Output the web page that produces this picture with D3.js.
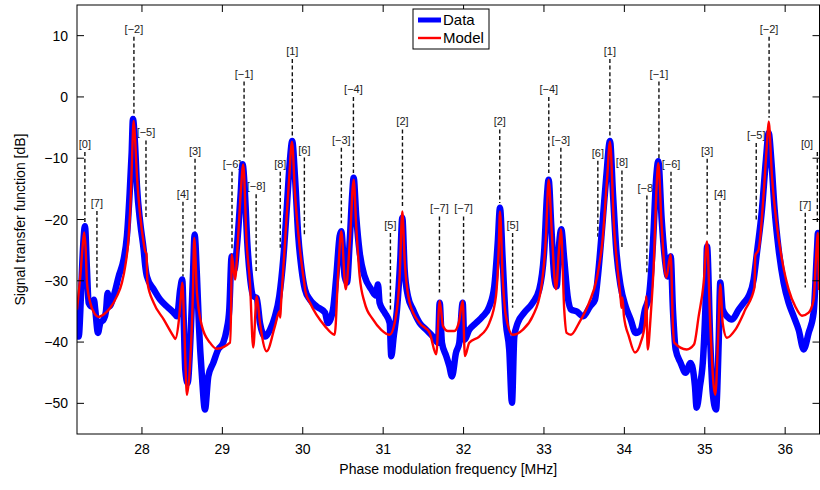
<!DOCTYPE html>
<html>
<head>
<meta charset="utf-8">
<script src="https://cdn.jsdelivr.net/npm/d3@7"></script>
<style>
  body { margin: 0; background: #fff; }
  text { font-family: "Liberation Sans", Arial, sans-serif; }
</style>
</head>
<body>
<div id="content"></div>
<script>
// measured transfer function (thick blue band)
var dataFreq = [27.192,27.213,27.241,27.266,27.291,27.316,27.337,27.378,27.403,27.419,27.453,27.481,27.524,27.552,27.573,27.593,27.648,27.710,27.772,27.813,27.847,27.872,27.888,27.913,27.938,27.979,28.021,28.041,28.062,28.146,28.228,28.311,28.394,28.435,28.476,28.501,28.519,28.539,28.568,28.601,28.634,28.655,28.684,28.709,28.746,28.784,28.825,28.887,28.949,29.011,29.053,29.086,29.116,29.148,29.185,29.228,29.252,29.281,29.310,29.343,29.384,29.427,29.468,29.530,29.592,29.654,29.708,29.757,29.800,29.841,29.869,29.903,29.944,29.986,30.027,30.090,30.173,30.276,30.313,30.376,30.417,30.459,30.479,30.521,30.550,30.583,30.616,30.633,30.665,30.708,30.770,30.852,30.910,30.935,30.956,31.019,31.081,31.101,31.131,31.172,31.213,31.238,31.267,31.308,31.371,31.454,31.536,31.619,31.682,31.703,31.731,31.785,31.822,31.856,31.905,31.947,31.989,32.009,32.071,32.154,32.238,32.320,32.382,32.425,32.453,32.486,32.527,32.568,32.602,32.631,32.673,32.755,32.859,32.942,33.004,33.037,33.058,33.091,33.128,33.158,33.190,33.215,33.252,33.294,33.336,33.406,33.489,33.572,33.634,33.675,33.725,33.775,33.821,33.858,33.899,33.954,34.016,34.078,34.140,34.203,34.256,34.306,34.356,34.397,34.422,34.464,34.514,34.539,34.576,34.604,34.638,34.700,34.762,34.824,34.878,34.899,34.940,34.981,35.015,35.028,35.069,35.099,35.140,35.173,35.193,35.223,35.276,35.338,35.422,35.484,35.546,35.608,35.649,35.711,35.761,35.795,35.827,35.869,35.919,35.981,36.043,36.106,36.168,36.230,36.292,36.354,36.396,36.408,36.427];
var dataDb = [-36.9,-39.1,-32.5,-24.9,-21.1,-28.2,-33.6,-34.2,-33.1,-34.7,-38.5,-36.9,-36.3,-35.0,-32.0,-34.2,-32.5,-29.3,-26.5,-22.7,-15.7,-9.1,-3.6,-7.5,-14.6,-20.6,-24.9,-27.6,-29.3,-31.4,-33.1,-34.2,-35.2,-35.8,-31.4,-29.8,-36.3,-44.5,-46.7,-40.1,-29.3,-22.5,-29.3,-37.4,-45.6,-51.0,-45.6,-43.4,-41.2,-40.1,-38.0,-34.7,-26.0,-28.2,-23.8,-15.7,-11.0,-15.7,-23.8,-29.3,-32.5,-32.8,-36.9,-39.1,-38.0,-35.8,-32.5,-26.5,-18.4,-10.2,-7.2,-13.0,-22.7,-28.2,-31.4,-33.1,-34.2,-35.2,-36.9,-34.7,-29.3,-22.7,-21.9,-29.3,-30.3,-23.8,-15.7,-13.2,-19.5,-25.4,-29.3,-31.4,-32.4,-30.6,-33.6,-35.2,-36.9,-42.3,-39.1,-34.7,-26.5,-19.7,-28.2,-32.5,-34.7,-36.9,-38.0,-39.1,-40.1,-33.6,-40.1,-42.3,-43.9,-45.6,-41.8,-40.1,-33.6,-39.6,-38.0,-36.9,-35.8,-34.2,-30.9,-23.8,-18.1,-26.5,-36.9,-41.2,-49.9,-39.1,-36.9,-35.2,-33.6,-31.4,-24.9,-16.2,-13.5,-21.1,-29.3,-30.9,-23.8,-21.6,-26.5,-32.5,-34.7,-35.0,-35.8,-34.2,-33.1,-28.7,-21.1,-13.0,-7.2,-15.7,-24.9,-30.9,-34.2,-36.3,-38.5,-38.0,-34.7,-32.5,-23.8,-13.0,-10.5,-20.0,-27.6,-29.3,-26.0,-34.7,-41.2,-43.4,-45.0,-43.4,-47.2,-50.7,-47.2,-42.3,-31.4,-24.4,-40.1,-48.3,-51.0,-40.1,-30.3,-34.7,-35.8,-36.3,-34.7,-33.6,-32.5,-29.8,-25.4,-18.4,-10.2,-5.9,-10.2,-18.4,-24.9,-30.3,-33.6,-35.8,-38.0,-41.2,-38.5,-35.2,-24.9,-22.2,-26.5];

// fitted model (red)
var modelFreq = [27.192,27.233,27.266,27.282,27.300,27.316,27.357,27.419,27.461,27.524,27.606,27.689,27.751,27.792,27.835,27.863,27.879,27.897,27.917,27.938,27.979,28.021,28.041,28.056,28.068,28.146,28.270,28.394,28.414,28.456,28.485,28.501,28.519,28.539,28.560,28.601,28.634,28.650,28.684,28.746,28.846,28.929,29.095,29.110,29.116,29.157,29.194,29.231,29.260,29.302,29.343,29.384,29.427,29.468,29.551,29.654,29.710,29.720,29.729,29.779,29.832,29.866,29.903,29.965,30.021,30.034,30.090,30.276,30.397,30.438,30.479,30.534,30.587,30.633,30.665,30.708,30.770,30.873,30.976,31.081,31.143,31.205,31.238,31.267,31.330,31.454,31.578,31.660,31.703,31.744,31.806,31.884,31.943,31.989,32.017,32.071,32.195,32.320,32.403,32.437,32.453,32.486,32.527,32.611,32.735,32.859,32.963,33.025,33.058,33.100,33.149,33.187,33.211,33.252,33.282,33.336,33.435,33.560,33.659,33.677,33.725,33.787,33.821,33.871,33.912,33.955,33.965,33.976,33.995,34.057,34.132,34.203,34.256,34.272,34.290,34.327,34.368,34.397,34.422,34.464,34.521,34.576,34.604,34.621,34.775,34.866,34.924,34.987,35.028,35.069,35.111,35.131,35.164,35.193,35.223,35.276,35.379,35.504,35.618,35.628,35.670,35.733,35.774,35.795,35.836,35.898,35.960,36.043,36.126,36.209,36.292,36.354,36.383,36.408,36.420];
var modelDb = [-34.7,-29.3,-23.8,-22.1,-24.9,-30.3,-33.6,-35.5,-35.9,-35.5,-34.4,-32.5,-30.3,-27.6,-22.7,-15.6,-9.1,-3.9,-7.5,-13.0,-19.5,-23.8,-25.2,-25.6,-30.3,-33.6,-36.3,-39.1,-39.5,-36.8,-32.5,-30.3,-34.7,-42.9,-48.6,-42.9,-31.9,-23.0,-31.9,-37.4,-40.1,-41.1,-40.1,-33.1,-25.7,-29.8,-23.3,-15.1,-11.0,-23.8,-30.3,-40.9,-32.5,-36.9,-41.5,-37.4,-35.0,-36.0,-33.9,-23.8,-13.0,-7.3,-15.7,-24.9,-30.6,-31.8,-33.6,-37.4,-38.8,-29.3,-21.9,-31.4,-23.3,-13.5,-21.1,-29.3,-33.6,-36.3,-38.0,-38.8,-36.9,-29.3,-18.7,-26.5,-33.6,-36.9,-38.5,-42.0,-33.3,-37.4,-38.2,-38.2,-36.7,-33.3,-42.3,-40.1,-39.1,-36.9,-32.5,-24.9,-18.7,-29.3,-35.8,-38.8,-38.0,-35.8,-31.4,-22.7,-13.5,-22.7,-31.4,-24.9,-21.6,-34.7,-38.5,-38.8,-36.9,-33.6,-29.5,-28.2,-23.8,-13.0,-7.3,-21.1,-27.6,-33.1,-34.4,-32.7,-35.8,-39.1,-41.7,-40.1,-36.9,-32.5,-41.2,-35.8,-26.5,-15.7,-10.8,-21.1,-29.5,-25.7,-37.4,-40.1,-41.2,-40.4,-35.8,-30.3,-23.6,-37.4,-47.2,-48.6,-40.1,-30.6,-36.9,-39.3,-38.0,-34.7,-31.1,-25.9,-24.9,-15.7,-7.5,-4.0,-13.0,-21.1,-26.5,-31.4,-34.2,-35.7,-35.2,-33.1,-26.5,-22.2,-31.5];

// resonance order annotations
var annLabels = ["[0]","[7]","[\u22122]","[\u22125]","[4]","[3]","[\u22126]","[\u22121]","[\u22128]","[8]","[1]","[6]","[\u22123]","[\u22124]","[5]","[2]","[\u22127]","[\u22127]","[2]","[5]","[\u22124]","[\u22123]","[6]","[1]","[8]","[\u22128]","[\u22121]","[\u22126]","[3]","[4]","[\u22125]","[\u22122]","[7]","[0]"];
var annFreq = [27.29,27.44,27.90,28.05,28.51,28.66,29.12,29.27,29.42,29.72,29.87,30.02,30.48,30.63,31.09,31.24,31.70,32.00,32.45,32.61,33.06,33.21,33.67,33.82,33.97,34.28,34.43,34.58,35.03,35.19,35.64,35.80,36.25,36.40];
var annTop = [-9.0,-18.6,9.8,-7.1,-17.1,-10.1,-12.2,2.5,-15.9,-12.2,6.2,-9.9,-8.3,0.0,-22.2,-5.3,-19.5,-19.5,-5.3,-22.2,0.0,-8.3,-10.4,6.2,-12.0,-16.1,2.5,-12.2,-10.1,-17.1,-7.5,9.8,-18.9,-9.0];
var annBottom = [-20.4,-31.1,-3.4,-19.7,-29.3,-22.5,-25.0,-9.9,-28.5,-24.6,-6.3,-22.5,-20.6,-12.4,-34.7,-17.9,-31.9,-31.9,-17.3,-34.4,-12.4,-20.6,-22.8,-6.3,-24.5,-28.7,-10.2,-25.0,-22.5,-29.8,-20.0,-3.4,-31.1,-20.6];

var xTicks = [28,29,30,31,32,33,34,35,36];
var yTicks = [-50,-40,-30,-20,-10,0,10];

// SVG setup
var W = 820, H = 490;
var plot = {left: 77, right: 819.5, top: 5, bottom: 434};

var svg = d3.select("#content")
  .append("svg")
  .attr("width", W)
  .attr("height", H);

var x = d3.scaleLinear().domain([27.192, 36.427]).range([plot.left, plot.right]);
var y = d3.scaleLinear().domain([-55, 15]).range([plot.bottom, plot.top]);

svg.append("clipPath").attr("id", "clip")
  .append("rect")
  .attr("x", plot.left).attr("y", plot.top)
  .attr("width", plot.right - plot.left).attr("height", plot.bottom - plot.top);

// dashed annotation lines + labels
var ann = annLabels.map(function(l, i) {
  return {label: l, f: annFreq[i], top: annTop[i], bottom: annBottom[i]};
});

svg.append("g")
  .selectAll("line")
  .data(ann)
  .join("line")
    .attr("x1", d => x(d.f)).attr("x2", d => x(d.f))
    .attr("y1", d => y(d.top)).attr("y2", d => y(d.bottom))
    .attr("stroke", "#111")
    .attr("stroke-width", 1.4)
    .attr("stroke-dasharray", "4,2.6");

// labels; the last one sits on the right border, keep it inside the picture
svg.append("g")
  .selectAll("text")
  .data(ann)
  .join("text")
    .attr("x", d => Math.min(x(d.f), W - 13))
    .attr("y", d => y(d.top) - 4)
    .attr("text-anchor", "middle")
    .style("font-size", "11px")
    .style("fill", "#222")
    .text(d => d.label);

// curves
var lineGen = d3.line()
  .curve(d3.curveMonotoneX)
  .x(d => x(d[0]))
  .y(d => y(d[1]));

var dataPts = dataFreq.map((f, i) => [f, dataDb[i]]);
var modelPts = modelFreq.map((f, i) => [f, modelDb[i]]);

svg.append("path")
  .datum(dataPts)
  .attr("clip-path", "url(#clip)")
  .attr("d", lineGen)
  .attr("fill", "none")
  .attr("stroke", "#0000ff")
  .attr("stroke-width", 6.5)
  .attr("stroke-linejoin", "round");

svg.append("path")
  .datum(modelPts)
  .attr("clip-path", "url(#clip)")
  .attr("d", lineGen)
  .attr("fill", "none")
  .attr("stroke", "#ff0000")
  .attr("stroke-width", 2.4)
  .attr("stroke-linejoin", "round");

// axes box with inward ticks on all sides
var tickLen = 7;
var axG = svg.append("g");

axG.append("rect")
  .attr("x", plot.left).attr("y", plot.top)
  .attr("width", plot.right - plot.left).attr("height", plot.bottom - plot.top)
  .attr("fill", "none").attr("stroke", "#000").attr("stroke-width", 1);

xTicks.forEach(function(t) {
  axG.append("line").attr("x1", x(t)).attr("x2", x(t))
    .attr("y1", plot.bottom).attr("y2", plot.bottom - tickLen).attr("stroke", "#000");
  axG.append("line").attr("x1", x(t)).attr("x2", x(t))
    .attr("y1", plot.top).attr("y2", plot.top + tickLen).attr("stroke", "#000");
  axG.append("text")
    .attr("x", x(t)).attr("y", plot.bottom + 20)
    .attr("text-anchor", "middle")
    .style("font-size", "14px")
    .text(t);
});

yTicks.forEach(function(t) {
  axG.append("line").attr("x1", plot.left).attr("x2", plot.left + tickLen)
    .attr("y1", y(t)).attr("y2", y(t)).attr("stroke", "#000");
  axG.append("line").attr("x1", plot.right).attr("x2", plot.right - tickLen)
    .attr("y1", y(t)).attr("y2", y(t)).attr("stroke", "#000");
  axG.append("text")
    .attr("x", plot.left - 9).attr("y", y(t) + 5)
    .attr("text-anchor", "end")
    .style("font-size", "14px")
    .text(d3.format("")(t).replace("-", "\u2212"));
});

// axis titles
svg.append("text")
  .attr("x", (plot.left + plot.right) / 2)
  .attr("y", 474)
  .attr("text-anchor", "middle")
  .style("font-size", "14px")
  .text("Phase modulation frequency [MHz]");

svg.append("text")
  .attr("transform", "translate(25," + ((plot.top + plot.bottom) / 2) + ") rotate(-90)")
  .attr("text-anchor", "middle")
  .style("font-size", "14px")
  .text("Signal transfer function [dB]");

// legend
var leg = svg.append("g");
leg.append("rect")
  .attr("x", 413).attr("y", 9).attr("width", 76).attr("height", 40)
  .attr("fill", "#fff").attr("stroke", "#000").attr("stroke-width", 1);

var legItems = [["Data", "#0000ff", 5], ["Model", "#ff0000", 2.4]];
legItems.forEach(function(it, i) {
  var ly = 20 + i * 18;
  leg.append("line")
    .attr("x1", 418).attr("x2", 441).attr("y1", ly).attr("y2", ly)
    .attr("stroke", it[1]).attr("stroke-width", it[2]);
  leg.append("text")
    .attr("x", 443).attr("y", ly + 5)
    .style("font-size", "15px")
    .text(it[0]);
});
</script>
</body>
</html>
